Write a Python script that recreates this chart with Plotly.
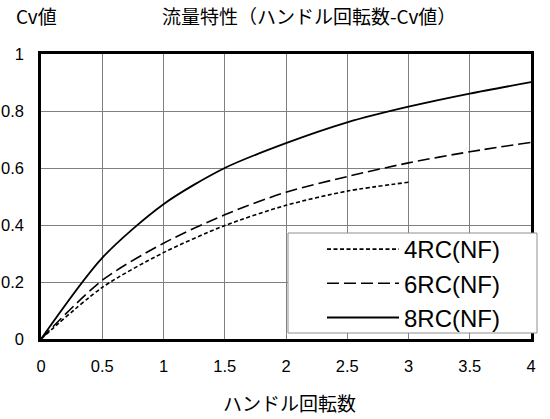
import plotly.graph_objects as go

turns = [0, 0.5, 1, 1.5, 2, 2.5, 3, 3.5, 4]
cv_4rc = [0, 0.181, 0.303, 0.398, 0.469, 0.519, 0.55]
cv_6rc = [0, 0.206, 0.336, 0.436, 0.515, 0.57, 0.618, 0.657, 0.69]
cv_8rc = [0, 0.285, 0.473, 0.6, 0.687, 0.76, 0.815, 0.861, 0.901]
names = ["4RC(NF)", "6RC(NF)", "8RC(NF)"]
x_ticks = [0, 0.5, 1, 1.5, 2, 2.5, 3, 3.5, 4]
y_ticks = [0, 0.2, 0.4, 0.6, 0.8, 1]

FONT = "Liberation Sans, Arial, Noto Sans CJK JP"
CJK = "Noto Sans CJK JP, Liberation Sans"

# plot area in pixels
L, R, T, B = 41, 531, 54, 339
W, H = R - L, B - T


def px(x):
    return (x - L) / W


def py(y):
    return (B - y) / H


fig = go.Figure()
fig.add_trace(go.Scatter(x=turns[:len(cv_4rc)], y=cv_4rc, name=names[0], mode="lines",
                         line=dict(color="black", width=1.6, dash="4px,2.5px", shape="spline", smoothing=0.8)))
fig.add_trace(go.Scatter(x=turns, y=cv_6rc, name=names[1], mode="lines",
                         line=dict(color="black", width=1.6, dash="12px,5px", shape="spline", smoothing=0.8)))
fig.add_trace(go.Scatter(x=turns, y=cv_8rc, name=names[2], mode="lines",
                         line=dict(color="black", width=1.8, shape="spline", smoothing=0.8)))

fig.update_layout(
    width=550, height=419,
    margin=dict(l=L, r=550 - R, t=T, b=419 - B, autoexpand=False),
    paper_bgcolor="white", plot_bgcolor="white",
    font=dict(family=FONT, color="black", size=16),
    showlegend=True,
    legend=dict(x=px(322), y=py(227), xanchor="left", yanchor="top",
                bgcolor="rgba(0,0,0,0)", borderwidth=0,
                font=dict(size=24, family=FONT), itemwidth=72,
                tracegroupgap=0),
    xaxis=dict(range=[0, 4], tickvals=x_ticks, ticktext=[f"{v:g}" for v in x_ticks],
               showgrid=True, gridcolor="#808080", gridwidth=1,
               showline=True, linecolor="black", linewidth=2.5, mirror=True,
               ticks="", ticklabelstandoff=10, zeroline=False, automargin=False,
               tickfont=dict(size=16.5)),
    yaxis=dict(range=[0, 1], tickvals=y_ticks, ticktext=[f"{v:g}" for v in y_ticks],
               showgrid=True, gridcolor="#808080", gridwidth=1,
               showline=True, linecolor="black", linewidth=2.5, mirror=True,
               ticks="", ticklabelstandoff=11, zeroline=False, automargin=False,
               tickfont=dict(size=16.5)),
    shapes=[dict(type="rect", xref="paper", yref="paper",
                 x0=px(288), x1=px(537), y0=py(333), y1=py(233),
                 line=dict(color="#909090", width=1), fillcolor="white", layer="above")],
    annotations=[
        dict(text="流量特性（ハンドル回転数-Cv値）", x=px(309), y=py(15), xref="paper", yref="paper",
             xanchor="center", yanchor="middle",
             showarrow=False, font=dict(family=CJK, size=19)),
        dict(text="Cv値", x=px(36), y=py(15), xref="paper", yref="paper",
             xanchor="center", yanchor="middle",
             showarrow=False, font=dict(family=CJK, size=19)),
        dict(text="ハンドル回転数", x=px(289), y=py(402), xref="paper", yref="paper",
             xanchor="center", yanchor="middle",
             showarrow=False, font=dict(family=CJK, size=19)),
    ],
)
fig.write_html("out.html", config={"displayModeBar": False},
               post_script="document.body.style.margin='0px';document.body.style.overflow='hidden';")
